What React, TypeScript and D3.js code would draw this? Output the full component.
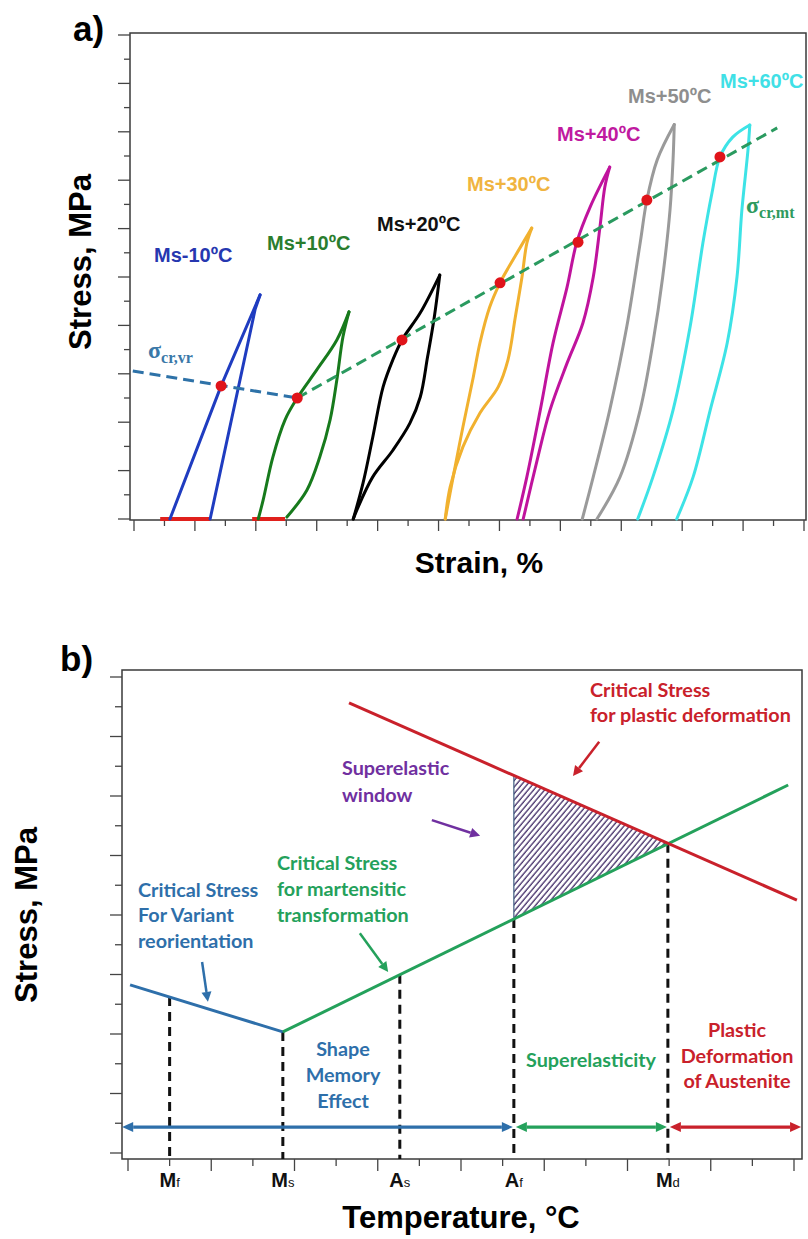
import React from 'react';
import * as d3 from 'd3';

type Pt = [number, number];

// ---------------- Panel a data (strain / stress, arbitrary units) ----------------
const strainTicks = [0, 0.5, 1, 1.5, 2, 2.5, 3, 3.5, 4, 4.5, 5, 5.5, 6, 6.5, 7, 7.5, 8, 8.5, 9, 9.5, 10, 10.5, 11];
const stressTicksA = [0, 0.5, 1, 1.5, 2, 2.5, 3, 3.5, 4, 4.5, 5, 5.5, 6, 6.5, 7, 7.5, 8, 8.5, 9, 9.5, 10];

const loopLabels = ['Ms-10ºC', 'Ms+10ºC', 'Ms+20ºC', 'Ms+30ºC', 'Ms+40ºC', 'Ms+50ºC', 'Ms+60ºC'];
const loopColors = ['#1f3cc0', '#177a1c', '#000000', '#f1b12f', '#c0139d', '#9a9a9a', '#3de3e6'];
const labelColors = ['#2637b0', '#2a7d2e', '#111111', '#f0b440', '#c01aa0', '#8e8e8e', '#40e0e6'];

const ms10Load: Pt[] = [[0.59, 0], [1.43, 2.75], [2.07, 4.63]];
const ms10Unload: Pt[] = [[2.07, 4.63], [1.99, 4.34], [1.25, 0]];
const ms10pLoad: Pt[] = [[2.04, 0], [2.12, 0.39], [2.28, 1.28], [2.48, 2.05], [2.68, 2.5], [3.0, 3.08], [3.33, 3.7], [3.53, 4.28]];
const ms10pUnload: Pt[] = [[3.53, 4.28], [3.43, 3.76], [3.33, 2.87], [3.22, 2.05], [3.05, 1.28], [2.84, 0.6], [2.51, 0.04]];
const ms20Load: Pt[] = [[3.6, 0], [3.76, 0.74], [3.92, 1.69], [4.09, 2.73], [4.25, 3.29], [4.4, 3.7], [4.7, 4.26], [5.02, 5.04]];
const ms20Unload: Pt[] = [[5.02, 5.04], [4.93, 4.17], [4.82, 3.35], [4.7, 2.52], [4.53, 1.98], [4.25, 1.42], [3.92, 0.87], [3.66, 0.19], [3.6, 0]];
const ms30Load: Pt[] = [[5.11, 0], [5.24, 0.87], [5.4, 1.9], [5.57, 2.93], [5.68, 3.64], [5.84, 4.38], [6.01, 4.88], [6.22, 5.35], [6.53, 6.01]];
const ms30Unload: Pt[] = [[6.53, 6.01], [6.45, 5.7], [6.37, 5.0], [6.26, 4.17], [6.14, 3.29], [5.98, 2.73], [5.68, 2.19], [5.4, 1.49], [5.19, 0.66], [5.11, 0]];
const ms40Load: Pt[] = [[6.29, 0], [6.45, 0.87], [6.67, 2.25], [6.88, 3.64], [7.11, 4.79], [7.27, 5.72], [7.49, 6.45], [7.81, 7.27]];
const ms40Unload: Pt[] = [[7.81, 7.27], [7.73, 6.86], [7.65, 6.03], [7.54, 5.0], [7.37, 4.05], [7.11, 3.22], [6.83, 2.25], [6.62, 1.22], [6.39, 0]];
const ms50Load: Pt[] = [[7.36, 0], [7.54, 0.87], [7.81, 2.25], [8.09, 3.97], [8.31, 5.7], [8.42, 6.59], [8.59, 7.42], [8.87, 8.15]];
const ms50Unload: Pt[] = [[8.87, 8.15], [8.85, 7.42], [8.8, 6.38], [8.68, 5.0], [8.52, 3.64], [8.31, 2.25], [7.98, 0.87], [7.6, 0]];
const ms60Load: Pt[] = [[8.27, 0], [8.52, 0.87], [8.85, 2.25], [9.13, 3.97], [9.34, 5.7], [9.49, 6.74], [9.62, 7.48], [9.83, 7.89], [10.11, 8.14]];
const ms60Unload: Pt[] = [[10.11, 8.14], [10.08, 7.62], [9.98, 6.38], [9.9, 5.0], [9.74, 3.64], [9.46, 2.25], [9.18, 0.87], [8.91, 0]];

const residualStrains: Pt[][] = [[[0.43, 0], [1.25, 0]], [[1.94, 0], [2.48, 0]]];
const sigmaVrLine: Pt[] = [[-0.02, 3.06], [2.68, 2.5]];
const sigmaMtLine: Pt[] = [[2.68, 2.5], [10.56, 8.08]];
const criticalPoints: Pt[] = [[1.43, 2.75], [2.68, 2.5], [4.4, 3.7], [6.01, 4.88], [7.29, 5.72], [8.42, 6.59], [9.62, 7.48]];

// ---------------- Panel b data (temperature / stress, arbitrary units) ----------------
const tempTicks = [0, 1, 2, 3, 4, 5, 6, 7, 8, 9, 10, 11, 12, 13, 14, 15, 16];
const stressTicksB = [0, 1, 2, 3, 4, 5, 6, 7, 8, 9, 10, 11, 12, 13, 14, 15, 16];
const variantLine: Pt[] = [[0.05, 5.65], [3.72, 4.07]];
const martensiteLine: Pt[] = [[3.72, 4.07], [15.86, 12.37]];
const plasticLine: Pt[] = [[5.31, 15.13], [16.07, 8.5]];
const transTemps = [1, 3.72, 6.53, 9.27, 12.97];
const transMain = ['M', 'M', 'A', 'A', 'M'];
const transSub = ['f', 's', 's', 'f', 'd'];
const regionStress = 0.87;
const regionBounds = [-0.14, 9.27, 12.97, 16.17];

const BLUE = '#2e6faa';
const GREEN = '#24a15b';
const RED = '#c9212b';
const PURPLE = '#7030a0';
const ARIAL = "'Liberation Sans', Arial, sans-serif";
const CAL = "Lato, 'Open Sans', sans-serif";
const SERIF = "'Liberation Serif', 'Times New Roman', serif";

function valueAt(line: Pt[], x: number) {
  const [a, b] = line;
  return a[1] + ((x - a[0]) * (b[1] - a[1])) / (b[0] - a[0]);
}

function Arrow({ x1, y1, x2, y2, color, w = 2.5, head = 10, half = 5 }: any) {
  const dx = x2 - x1, dy = y2 - y1;
  const len = Math.hypot(dx, dy);
  const ux = dx / len, uy = dy / len;
  const bx = x2 - ux * head, by = y2 - uy * head;
  const px = -uy * half, py = ux * half;
  return (
    <g>
      <line x1={x1} y1={y1} x2={bx} y2={by} stroke={color} strokeWidth={w} />
      <polygon points={`${x2},${y2} ${bx + px},${by + py} ${bx - px},${by - py}`} fill={color} />
    </g>
  );
}

function DoubleArrow({ x1, x2, y, color }: any) {
  const L = 11, W = 5;
  return (
    <g>
      <line x1={x1 + L} x2={x2 - L} y1={y} y2={y} stroke={color} strokeWidth={3.2} />
      <polygon points={`${x1},${y} ${x1 + L},${y - W} ${x1 + L},${y + W}`} fill={color} />
      <polygon points={`${x2},${y} ${x2 - L},${y - W} ${x2 - L},${y + W}`} fill={color} />
    </g>
  );
}

export default function App() {
  // panel a scales
  const xA = d3.scaleLinear().domain([0, 11]).range([134, 804]);
  const yA = d3.scaleLinear().domain([0, 10]).range([519, 35]);
  const curveA = d3.line<Pt>().x((d) => xA(d[0])).y((d) => yA(d[1])).curve(d3.curveCatmullRom.alpha(0.5));
  const straightA = d3.line<Pt>().x((d) => xA(d[0])).y((d) => yA(d[1]));

  // panel b scales
  const xB = d3.scaleLinear().domain([0, 16]).range([128, 794]);
  const yB = d3.scaleLinear().domain([0, 16]).range([1153, 677]);
  const straightB = d3.line<Pt>().x((d) => xB(d[0])).y((d) => yB(d[1]));

  const branches: Pt[][][] = [
    [ms10Load, ms10Unload],
    [ms10pLoad, ms10pUnload],
    [ms20Load, ms20Unload],
    [ms30Load, ms30Unload],
    [ms40Load, ms40Unload],
    [ms50Load, ms50Unload],
    [ms60Load, ms60Unload],
  ];
  const labelPos = [
    [154, 262], [267, 250], [377, 231], [467, 191], [557, 141], [628, 103], [720, 88],
  ];

  const A = { left: 130, right: 806, top: 33, bottom: 520 };
  const B = { left: 122, right: 802, top: 670, bottom: 1159 };

  const Af = transTemps[3];
  const Md = transTemps[4];
  const hatch: Pt[] = [
    [Af, valueAt(plasticLine, Af)],
    [Md, valueAt(martensiteLine, Md)],
    [Af, valueAt(martensiteLine, Af)],
  ];
  const tops = transTemps.map((t, i) => (i === 0 ? valueAt(variantLine, t) : valueAt(martensiteLine, t)));
  const regionColors = [BLUE, GREEN, RED];

  return (
    <svg width={808} height={1239} style={{ position: 'absolute', left: 0, top: 0, background: '#fff' }}>
      <defs>
        <pattern id="hatch" patternUnits="userSpaceOnUse" width={4.2} height={10} patternTransform="rotate(40)">
          <line x1={1} y1={0} x2={1} y2={10} stroke="#4d3970" strokeWidth={1.4} />
        </pattern>
      </defs>
      <rect x={0} y={0} width={808} height={1239} fill="#fff" />

      {/* ================= Panel a ================= */}
      <text x={73} y={41} fontFamily={ARIAL} fontWeight="bold" fontSize={35}>a)</text>
      <rect x={A.left} y={A.top} width={A.right - A.left} height={A.bottom - A.top} fill="none" stroke="#3a3a3a" strokeWidth={1.5} />
      {stressTicksA.map((t, i) => (
        <line key={'ya' + i} x1={A.left - (i % 2 === 0 ? 12 : 6)} x2={A.left} y1={yA(t)} y2={yA(t)} stroke="#444" strokeWidth={1.3} />
      ))}
      {strainTicks.map((t, i) => (
        <line key={'xa' + i} x1={xA(t)} x2={xA(t)} y1={A.bottom} y2={A.bottom + (i % 2 === 0 ? 11 : 6)} stroke="#444" strokeWidth={1.3} />
      ))}
      <text transform="translate(91,262) rotate(-90)" textAnchor="middle" fontFamily={ARIAL} fontWeight="bold" fontSize={31}>Stress, MPa</text>
      <text x={479} y={573} textAnchor="middle" fontFamily={ARIAL} fontWeight="bold" fontSize={30}>Strain, %</text>

      {residualStrains.map((r, i) => (
        <path key={'res' + i} d={straightA(r) || ''} stroke="#e0201c" strokeWidth={4} fill="none" />
      ))}
      {branches.map((br, i) => (
        <g key={'loop' + i}>
          {br.map((b, j) => (
            <path key={j} d={(i === 0 ? straightA(b) : curveA(b)) || ''} fill="none" stroke={loopColors[i]} strokeWidth={3} strokeLinejoin="round" strokeLinecap="round" />
          ))}
        </g>
      ))}
      <path d={straightA(sigmaVrLine) || ''} stroke="#2e72a8" strokeWidth={3} strokeDasharray="11,6" fill="none" />
      <path d={straightA(sigmaMtLine) || ''} stroke="#2a9a5f" strokeWidth={3} strokeDasharray="11,6" fill="none" />
      {criticalPoints.map((p, i) => (
        <circle key={'cp' + i} cx={xA(p[0])} cy={yA(p[1])} r={5.5} fill="#e0141a" />
      ))}
      {loopLabels.map((l, i) => (
        <text key={'ll' + i} x={labelPos[i][0]} y={labelPos[i][1]} fill={labelColors[i]} fontFamily={ARIAL} fontWeight="bold" fontSize={20}>{l}</text>
      ))}
      <text x={148} y={358} fill="#3a78a8" fontFamily={SERIF} fontWeight="bold" fontSize={24}>
        σ<tspan fontSize={16} dy={5}>cr,vr</tspan>
      </text>
      <text x={746} y={213} fill="#2e9a5e" fontFamily={SERIF} fontWeight="bold" fontSize={24}>
        σ<tspan fontSize={16} dy={5}>cr,mt</tspan>
      </text>

      {/* ================= Panel b ================= */}
      <text x={60} y={671} fontFamily={ARIAL} fontWeight="bold" fontSize={35}>b)</text>
      <rect x={B.left} y={B.top} width={B.right - B.left} height={B.bottom - B.top} fill="none" stroke="#3a3a3a" strokeWidth={1.5} />
      {stressTicksB.map((t, i) => (
        <line key={'yb' + i} x1={B.left - (i % 2 === 0 ? 12 : 7)} x2={B.left} y1={yB(t)} y2={yB(t)} stroke="#444" strokeWidth={1.3} />
      ))}
      {tempTicks.map((t, i) => (
        <line key={'xb' + i} x1={xB(t)} x2={xB(t)} y1={B.bottom} y2={B.bottom + (i % 2 === 0 ? 12 : 7)} stroke="#444" strokeWidth={1.3} />
      ))}
      <text transform="translate(37,915) rotate(-90)" textAnchor="middle" fontFamily={ARIAL} fontWeight="bold" fontSize={31}>Stress, MPa</text>
      <text x={461} y={1228} textAnchor="middle" fontFamily={ARIAL} fontWeight="bold" fontSize={31}>Temperature, °C</text>

      {/* hatched superelastic window */}
      <path d={(straightB(hatch) || '') + 'Z'} fill="url(#hatch)" stroke="none" />
      <line x1={xB(Af)} x2={xB(Af)} y1={yB(hatch[0][1])} y2={yB(hatch[2][1])} stroke="#3d5b80" strokeWidth={1.2} />

      {/* vertical dashed lines */}
      {transTemps.map((t, i) => (
        <line key={'vd' + i} x1={xB(t)} x2={xB(t)} y1={yB(tops[i])} y2={B.bottom} stroke="#111" strokeWidth={3} strokeDasharray="9,6" />
      ))}

      <path d={straightB(variantLine) || ''} stroke={BLUE} strokeWidth={3} fill="none" />
      <path d={straightB(martensiteLine) || ''} stroke={GREEN} strokeWidth={3} fill="none" />
      <path d={straightB(plasticLine) || ''} stroke={RED} strokeWidth={3} fill="none" />

      {regionColors.map((c, i) => (
        <DoubleArrow key={'da' + i} x1={xB(regionBounds[i]) + (i === 0 ? 0 : 2)} x2={xB(regionBounds[i + 1]) - (i === 2 ? 0 : 1)} y={yB(regionStress)} color={c} />
      ))}

      {/* annotation arrows */}
      <Arrow x1={xB(11.32)} y1={yB(13.82)} x2={xB(10.69)} y2={yB(12.67)} color={RED} />
      <Arrow x1={xB(7.3)} y1={yB(11.19)} x2={xB(8.46)} y2={yB(10.66)} color={PURPLE} />
      <Arrow x1={xB(5.57)} y1={yB(7.39)} x2={xB(6.25)} y2={yB(6.08)} color={GREEN} />
      <Arrow x1={xB(1.78)} y1={yB(6.42)} x2={xB(1.92)} y2={yB(5.08)} color={BLUE} />

      {/* annotation text */}
      <g fontFamily={CAL} fontWeight="bold" fontSize={19.8}>
        <text x={590} y={697} fill={RED}>Critical Stress</text>
        <text x={590} y={722} fill={RED}>for plastic deformation</text>
        <text x={342} y={775} fill={PURPLE}>Superelastic</text>
        <text x={342} y={802} fill={PURPLE}>window</text>
        <text x={277} y={870} fill={GREEN}>Critical Stress</text>
        <text x={277} y={896} fill={GREEN}>for martensitic</text>
        <text x={277} y={922} fill={GREEN}>transformation</text>
        <text x={138} y={897} fill={BLUE}>Critical Stress</text>
        <text x={138} y={922} fill={BLUE}>For Variant</text>
        <text x={138} y={948} fill={BLUE}>reorientation</text>
        <text x={343} y={1056} fill={BLUE} textAnchor="middle">Shape</text>
        <text x={343} y={1082} fill={BLUE} textAnchor="middle">Memory</text>
        <text x={343} y={1108} fill={BLUE} textAnchor="middle">Effect</text>
        <text x={526} y={1067} fill={GREEN}>Superelasticity</text>
        <text x={737} y={1037} fill={RED} textAnchor="middle">Plastic</text>
        <text x={737} y={1063} fill={RED} textAnchor="middle">Deformation</text>
        <text x={737} y={1088} fill={RED} textAnchor="middle">of Austenite</text>
      </g>

      {/* transition temperature labels */}
      {transTemps.map((t, i) => (
        <text key={'tl' + i} x={xB(t)} y={1187} textAnchor="middle" fontFamily={ARIAL} fill="#111">
          <tspan fontWeight="bold" fontSize={20}>{transMain[i]}</tspan>
          <tspan fontSize={13}>{transSub[i]}</tspan>
        </text>
      ))}
    </svg>
  );
}
